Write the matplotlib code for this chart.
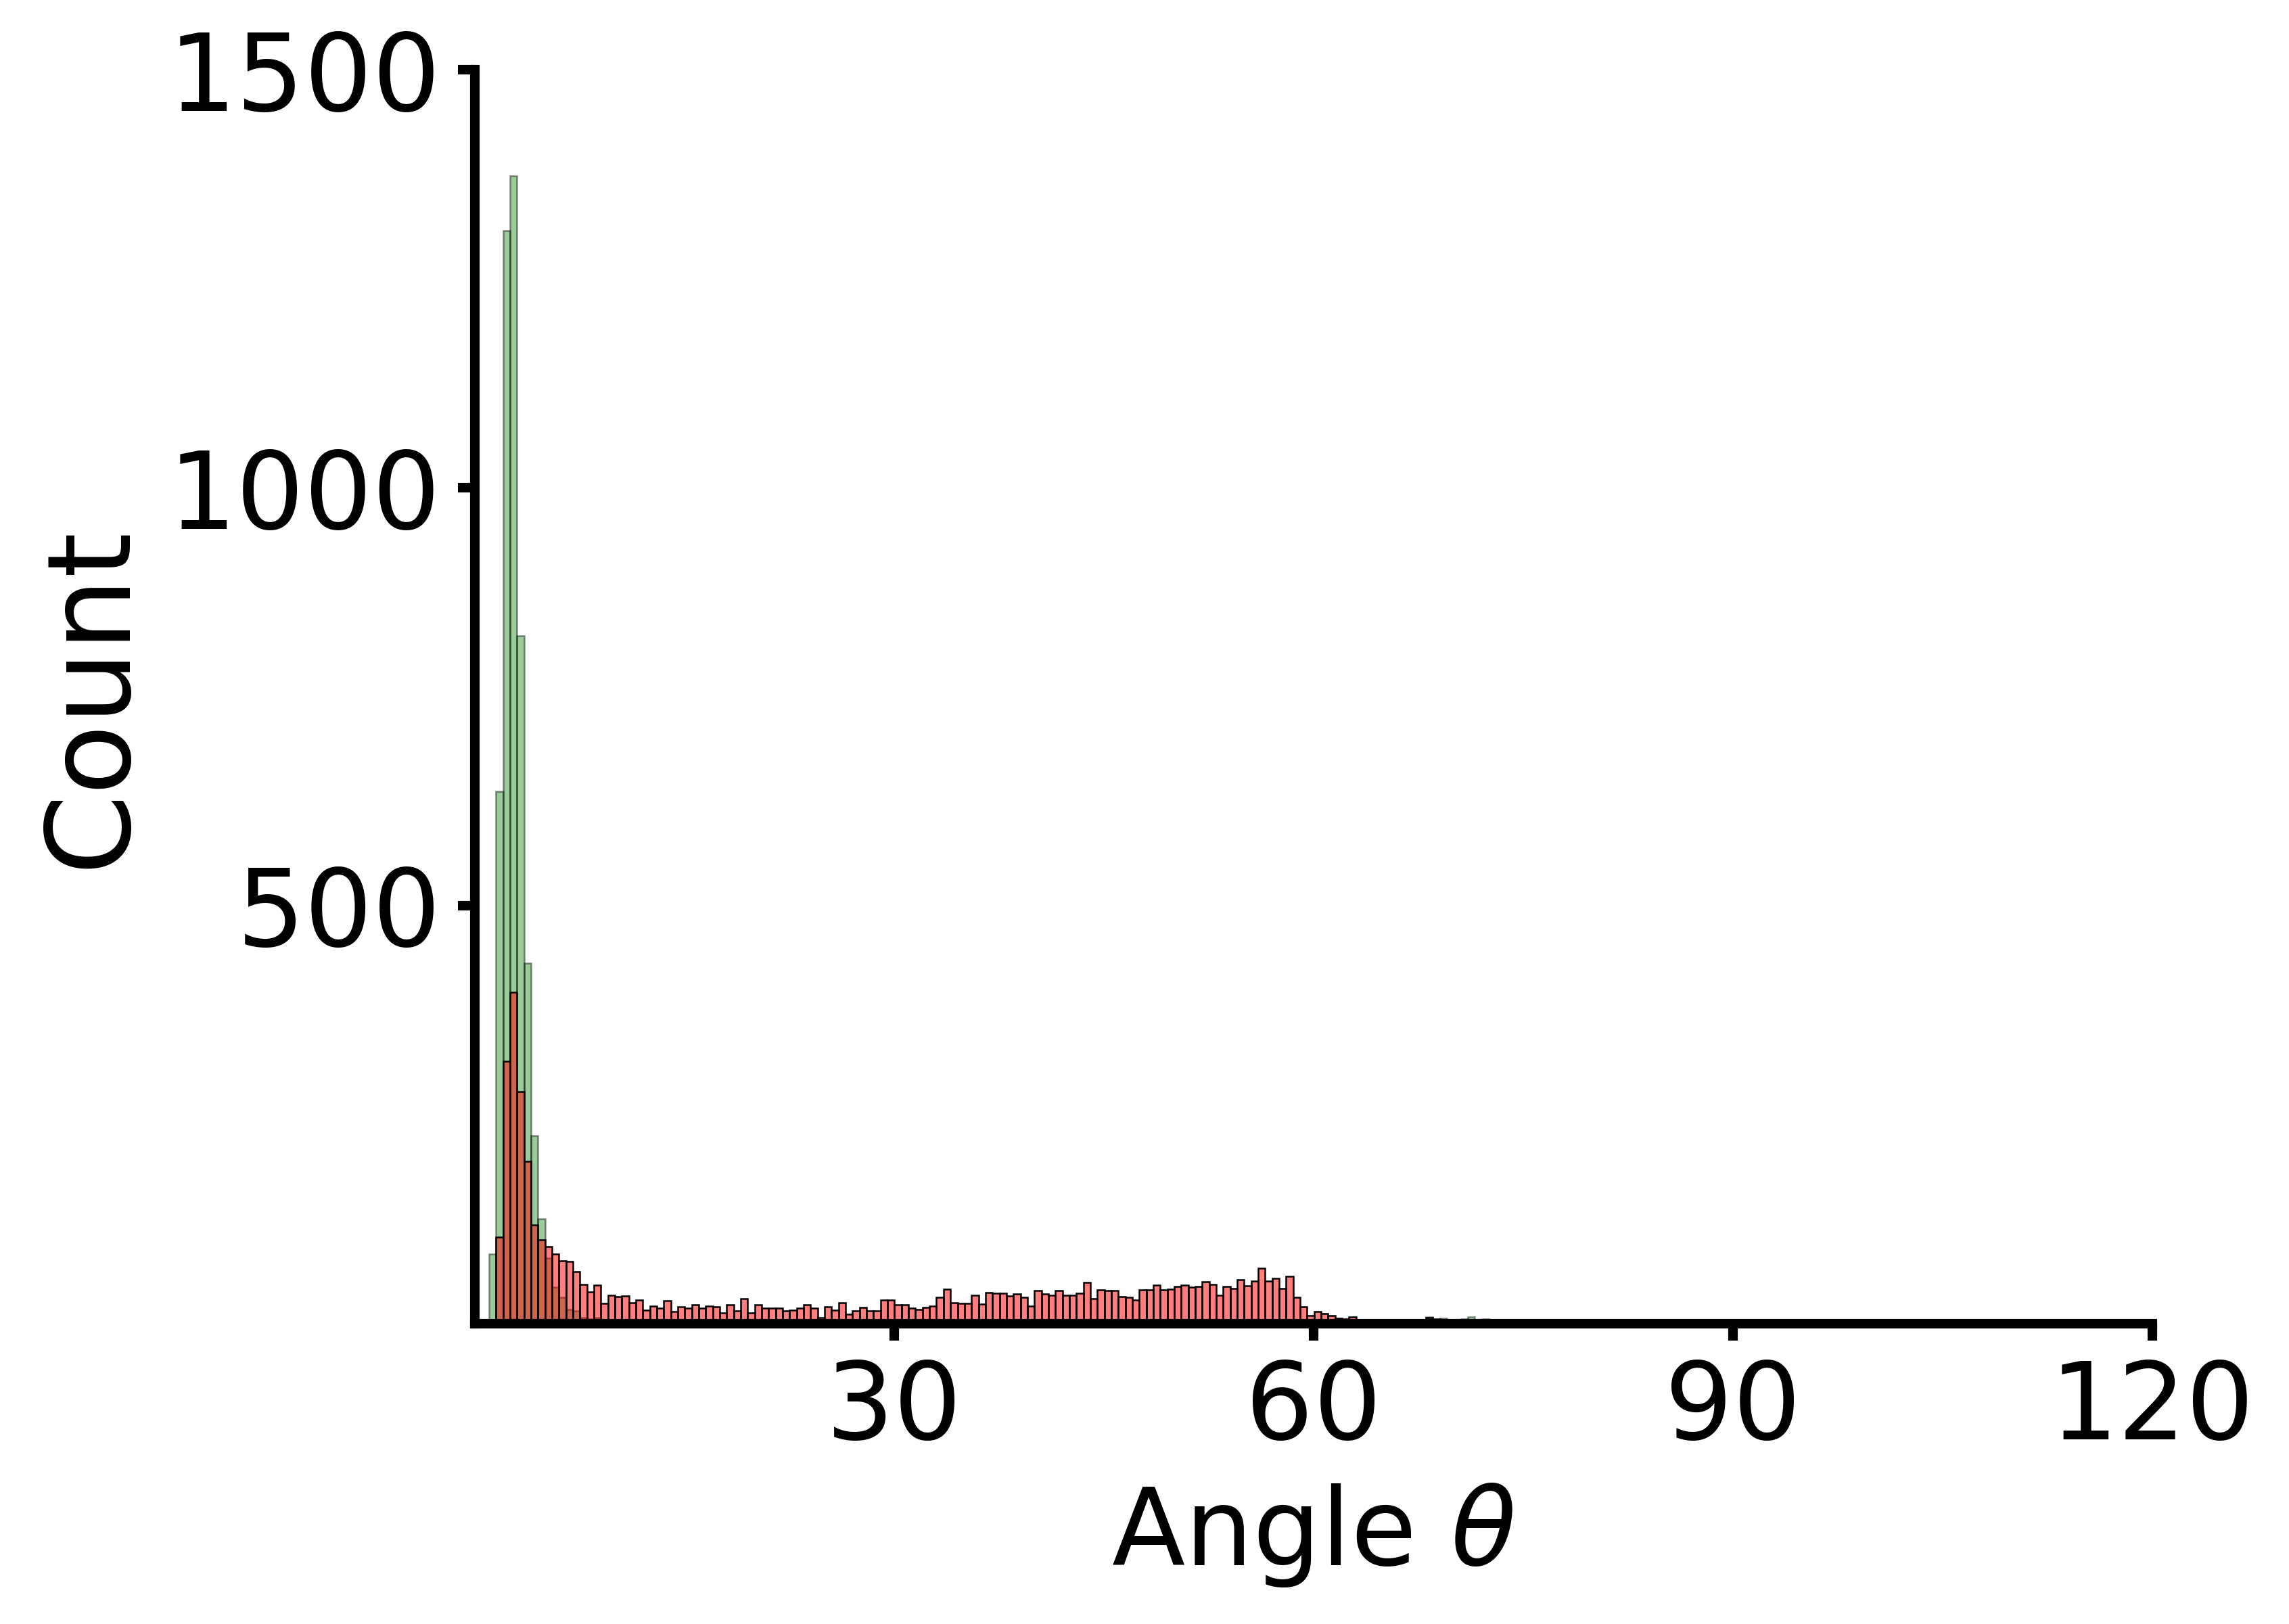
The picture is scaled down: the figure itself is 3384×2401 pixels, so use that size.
import numpy as np
import matplotlib.pyplot as plt

# histogram bins (degrees): left edge of first bin and bin width
bin_start = 1.03
bin_width = 0.5

# counts per bin (144 bins, 1.03 .. 73.03)
green_counts = [
    83, 637, 1308, 1373, 823, 431, 225, 125, 78, 43,
    31, 17, 15, 7, 5, 7, 4, 3, 2, 2,
    1, 1, 0, 0, 0, 0, 0, 0, 0, 0,
] + [0] * 95 + [
    3, 0, 3, 3, 0, 0, 0, 3, 0, 8,
    0, 6, 3, 0, 5, 8, 0, 5, 3,
]

red_counts = [
    0, 103, 314, 396, 277, 194, 118, 100, 92, 83,
    75, 74, 62, 47, 38, 46, 24, 34, 32, 33,
    25, 28, 16, 21, 18, 27, 14, 20, 18, 22,
    18, 21, 20, 13, 22, 15, 30, 13, 22, 18,
    18, 18, 15, 16, 18, 22, 18, 7, 20, 16,
    25, 11, 15, 19, 15, 15, 28, 28, 22, 22,
    18, 17, 19, 21, 31, 41, 25, 24, 24, 34,
    23, 37, 36, 36, 33, 35, 31, 21, 39, 35,
    34, 39, 34, 34, 36, 49, 30, 40, 39, 39,
    32, 31, 28, 40, 40, 46, 40, 41, 44, 46,
    43, 44, 50, 47, 34, 44, 42, 52, 45, 51,
    66, 51, 54, 42, 56, 31, 20, 9, 14, 12,
    9, 6, 5, 8, 0, 0, 4, 0, 0, 0,
    0, 0, 0, 4, 7, 5, 0, 0, 4, 0,
    0, 0, 0, 0,
]

xticks = [30, 60, 90, 120]
yticks = [500, 1000, 1500]

n_bins = len(red_counts)
edges = bin_start + bin_width * np.arange(n_bins + 1)
centers = 0.5 * (edges[:-1] + edges[1:])

fig = plt.figure(figsize=(3384 / 300, 2401 / 300), dpi=300)
ax = fig.add_axes([0.2074, 0.1851, 0.7329, 0.7718])

ax.hist(centers, bins=edges, weights=green_counts,
        facecolor=(0.0, 0.5, 0.0, 0.4), edgecolor=(0, 0, 0, 0.45), linewidth=0.6)
ax.hist(centers, bins=edges, weights=red_counts,
        facecolor=(1.0, 0.0, 0.0, 0.5), edgecolor='black', linewidth=0.6)

ax.set_xlim(0, 120)
ax.set_ylim(0, 1500)
ax.set_xticks(xticks)
ax.set_yticks(yticks)

for side in ['top', 'right']:
    ax.spines[side].set_visible(False)
for side in ['left', 'bottom']:
    ax.spines[side].set_linewidth(3.4)

ax.tick_params(width=3.4, length=6, labelsize=38, pad=6)
ax.set_xlabel(r'Angle $\theta$', fontsize=38, labelpad=7)
ax.set_ylabel('Count', fontsize=41, labelpad=7)

fig.savefig('out.png', dpi=300)
